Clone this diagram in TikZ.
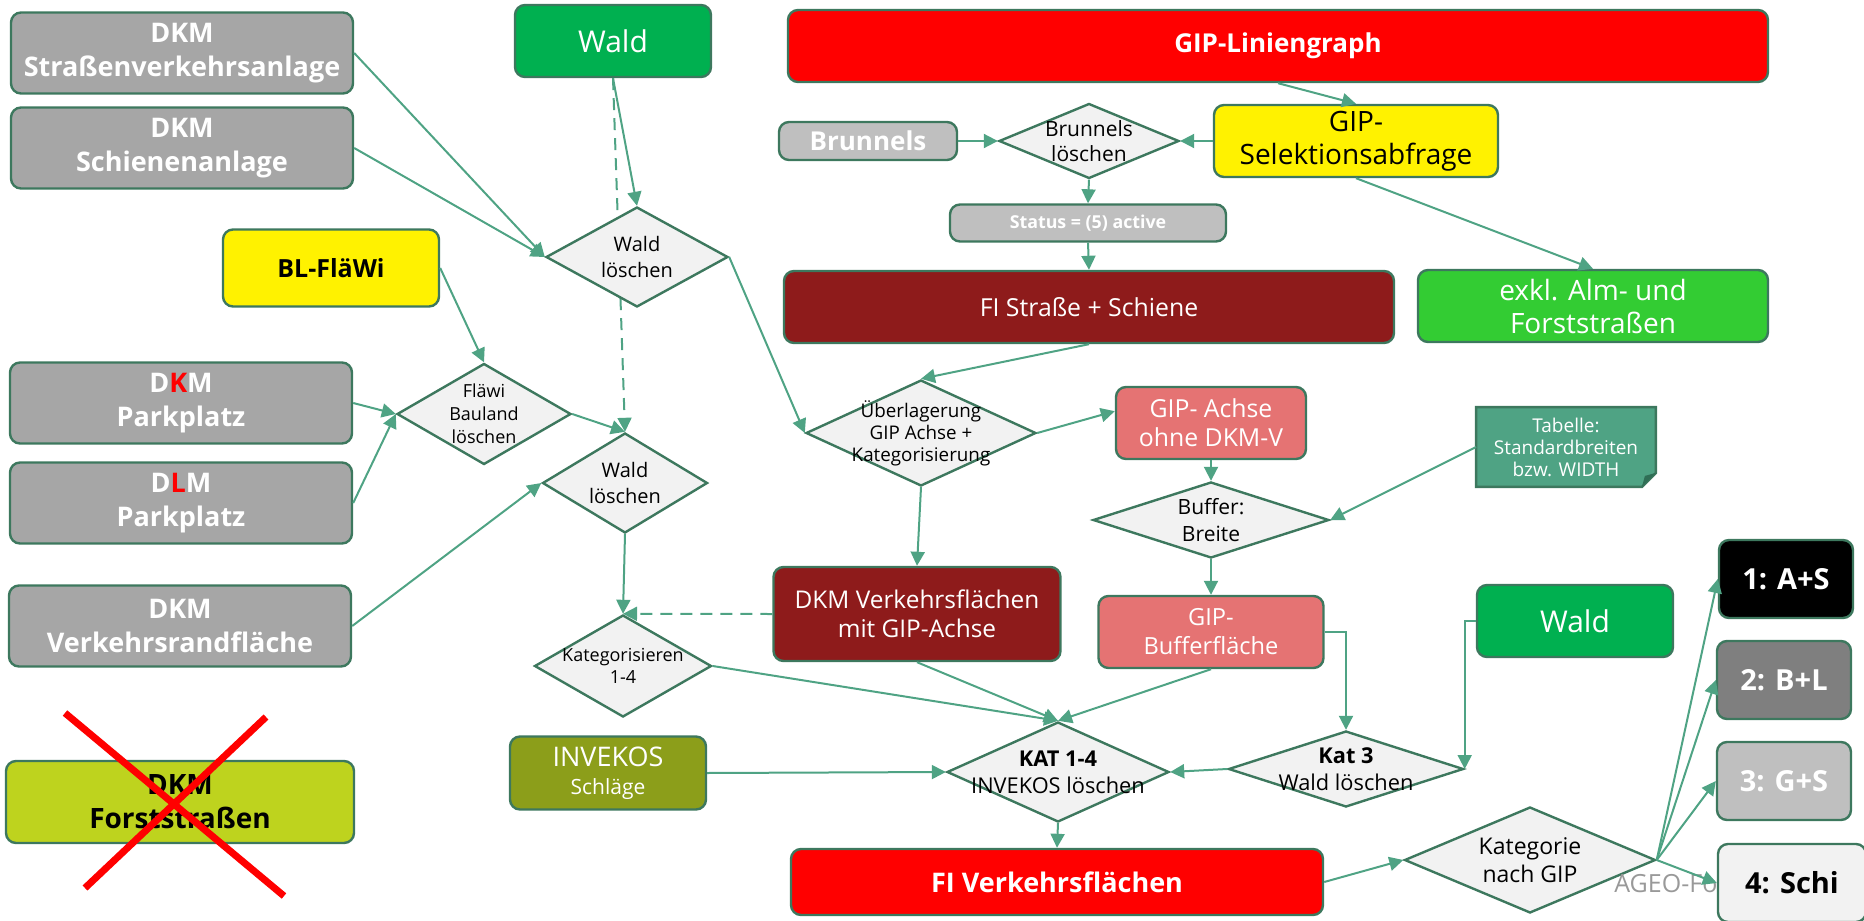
\documentclass[tikz,border=0pt]{standalone}
\usepackage{fontspec}
\setmainfont{Open Sans}
\usepackage{tikz}
\usetikzlibrary{arrows.meta}
\usetikzlibrary{shapes.geometric}
\usetikzlibrary{backgrounds}

\definecolor{flowline}{HTML}{4FA384}
\definecolor{flowrim}{HTML}{3D785E}
\definecolor{dkmgray}{HTML}{A6A6A6}
\definecolor{paleGray}{HTML}{BFBFBF}
\definecolor{midGray}{HTML}{7F7F7F}
\definecolor{diaGray}{HTML}{F2F2F2}
\definecolor{waldgreen}{HTML}{00B050}
\definecolor{exklgreen}{HTML}{33CC33}
\definecolor{fiDarkRed}{HTML}{8E1B1B}
\definecolor{achseRed}{HTML}{E57373}
\definecolor{invekosOlive}{HTML}{8C9E1A}
\definecolor{forstLime}{HTML}{BED31E}
\definecolor{tabTeal}{HTML}{4FA384}
\definecolor{tabFold}{HTML}{2F6E55}
\newcommand{\fsz}[2]{\fontsize{#1}{#2}\selectfont}

\begin{document}
\begin{tikzpicture}[x=0.5pt,y=-0.5pt,>={Triangle[length=7pt,width=7pt]},
    box/.style={rectangle,draw=flowrim,line width=1.2pt,rounded corners=5pt,align=center,inner sep=0pt},
    dkmbox/.style={box,fill=dkmgray,text=white,font=\fsz{13.5}{17}\bfseries,minimum width=171pt,minimum height=40.5pt},
    dia/.style={diamond,draw=flowrim,line width=1.2pt,fill=diaGray,inner sep=0pt},
    dtext/.style={align=center,inner sep=0pt,text=black},
    katbox/.style={box,font=\fsz{14.5}{17}\bfseries,minimum width=67pt,minimum height=39pt}]
    \useasboundingbox (0,0) rectangle (1864,921);

    \node[dkmbox] (dkmstr) at (182,53) {DKM\\Straßenverkehrsanlage};
    \node[dkmbox] (dkmschiene) at (182,148) {DKM\\Schienenanlage};
    \node[dkmbox] (dkmpark) at (181,403) {D{\color{red}K}M\\Parkplatz};
    \node[dkmbox] (dlmpark) at (181,503) {D{\color{red}L}M\\Parkplatz};
    \node[dkmbox] (dkmrand) at (180,626) {DKM\\Verkehrsrandfläche};
    \node[box,fill=forstLime,font=\fsz{14}{17}\bfseries,minimum width=174pt,minimum height=41pt] (forst) at (180,802) {DKM\\Forststraßen};
    \node[box,fill=yellow,font=\fsz{12.5}{16}\bfseries,minimum width=108pt,minimum height=38.5pt] (blflaewi) at (331,268) {BL-FläWi};
    \node[box,fill=waldgreen,text=white,font=\fsz{15}{18},minimum width=98pt,minimum height=36pt] (wald) at (613,41) {Wald};

    \node[dia,minimum width=91pt,minimum height=50pt,label={[dtext,font=\fsz{10}{13}]center:{Wald\\löschen}}] (waldloe) at (637,257) {};
    \node[dia,minimum width=87pt,minimum height=50.5pt,label={[dtext,font=\fsz{9}{11.5}]center:{Fläwi\\Bauland\\löschen}}] (flaewiloe) at (484,414) {};
    \node[dia,minimum width=82.5pt,minimum height=50pt,label={[dtext,font=\fsz{10}{13}]center:{Wald\\löschen}}] (waldloezwei) at (625,483) {};
    \node[dia,minimum width=88.5pt,minimum height=51pt,label={[dtext,font=\fsz{9}{11}]center:{Kategorisieren\\1-4}}] (kategor) at (623,666) {};
    \node[box,fill=invekosOlive,text=white,font=\fsz{13.5}{14},minimum width=98pt,minimum height=36.5pt] (invekos) at (608,773) {INVEKOS\\{\fsz{10.5}{13}Schläge}};

    \node[box,fill=red,text=white,font=\fsz{13}{16}\bfseries,minimum width=490pt,minimum height=36pt] (liniengraph) at (1278,46) {GIP-Liniengraph};
    \node[box,fill=paleGray,text=white,font=\fsz{13}{16}\bfseries,minimum width=89pt,minimum height=19pt] (brunnels) at (868,141) {Brunnels};
    \node[dia,minimum width=90pt,minimum height=37.5pt,label={[dtext,font=\fsz{10.5}{12.5}]center:{Brunnels\\löschen}}] (brunloe) at (1089,141) {};
    \node[box,fill=yellow,font=\fsz{14}{16.5},minimum width=142pt,minimum height=36pt] (selektion) at (1356,141) {GIP-\\Selektionsabfrage};
    \node[box,fill=paleGray,text=white,font=\fsz{8.9}{10}\bfseries,minimum width=138pt,minimum height=18.5pt] (status) at (1088,223) {Status = (5) active};
    \node[box,fill=fiDarkRed,text=white,font=\fsz{12.4}{14},minimum width=305pt,minimum height=36pt] (fistrasse) at (1089,307) {FI Straße + Schiene};
    \node[box,fill=exklgreen,text=white,font=\fsz{14}{16.5},minimum width=175pt,minimum height=36pt] (exkl) at (1593,306) {exkl. Alm- und\\Forststraßen};

    \node[dia,minimum width=115pt,minimum height=53pt,label={[dtext,font=\fsz{9.4}{11}]center:{Überlagerung\\GIP Achse +\\Kategorisierung}}] (ueber) at (921,433) {};
    \node[box,fill=achseRed,text=white,font=\fsz{12.4}{14.5},minimum width=95pt,minimum height=36pt] (achse) at (1211,423) {GIP- Achse\\ohne DKM-V};
    \node[text=white,font=\fsz{9.5}{11},align=center,inner sep=0pt,minimum width=89.5pt,minimum height=39.5pt] (tabelle) at (1566,447) {Tabelle:\\Standardbreiten\\bzw. WIDTH};
    \node[dia,minimum width=118pt,minimum height=38pt,label={[dtext,font=\fsz{10.5}{13.5}]center:{Buffer:\\Breite}}] (buffer) at (1211,520) {};
    \node[box,fill=fiDarkRed,text=white,font=\fsz{12.2}{14.5},minimum width=143.5pt,minimum height=47pt] (dkmvf) at (917,614) {DKM Verkehrsflächen\\mit GIP-Achse};
    \node[box,fill=achseRed,text=white,font=\fsz{11.8}{14.5},minimum width=112.5pt,minimum height=36pt] (bufferfl) at (1211,632) {GIP-\\Bufferfläche};
    \node[box,fill=waldgreen,text=white,font=\fsz{15}{18},minimum width=98pt,minimum height=36pt] (waldzwei) at (1575,621) {Wald};

    \node[dia,minimum width=111pt,minimum height=50pt,label={[dtext,font=\fsz{10.9}{13.5}]center:{\textbf{KAT 1-4}\\INVEKOS löschen}}] (katinv) at (1058,772) {};
    \node[dia,minimum width=117.5pt,minimum height=38pt,label={[dtext,font=\fsz{10.9}{13.5}]center:{\textbf{Kat 3}\\Wald löschen}}] (katwald) at (1346,769) {};
    \node[box,fill=red,text=white,font=\fsz{13.5}{16}\bfseries,minimum width=266pt,minimum height=33pt] (fiverk) at (1057,882) {FI Verkehrsflächen};
    \node[dia,minimum width=125.5pt,minimum height=53pt,label={[dtext,font=\fsz{11.5}{14}]center:{Kategorie\\nach GIP}}] (katgip) at (1530,860) {};

    \node[anchor=west,text=paleGray!80!black,font=\fsz{12.5}{14},inner sep=0pt] (ageo) at (1614,884) {AGEO-Forst};
    \node[katbox,fill=black,text=white] (as) at (1786,579) {1: A+S};
    \node[katbox,fill=midGray,text=white] (bl) at (1784,680) {2: B+L};
    \node[katbox,fill=paleGray,text=white] (gs) at (1784,781) {3: G+S};
    \node[katbox,fill=diaGray,minimum width=74pt] (schi) at (1792,883) {4: Schi};

    \begin{scope}[on background layer]
      \filldraw[fill=tabTeal,draw=flowrim,line width=1.2pt] (tabelle.north west) -- (tabelle.north east) -- ([yshift=7pt]tabelle.south east) -- ([xshift=-7pt]tabelle.south east) -- (tabelle.south west) -- cycle;
      \draw[->,flowline,line width=1pt,dash pattern=on 6pt off 4pt] (wald.south) -- (waldloezwei.north);
    \end{scope}
    \fill[tabFold] ([yshift=7pt]tabelle.south east) -- ([xshift=-7pt]tabelle.south east) -- ([xshift=-5.5pt,yshift=5.5pt]tabelle.south east) -- cycle;

    \begin{scope}[->,flowline,line width=1pt]
      \draw (dkmstr.east) -- (waldloe.west);
      \draw (dkmschiene.east) -- (waldloe.west);
      \draw (wald.south) -- (waldloe.north);
      \draw (waldloe.east) -- (ueber.west);
      \draw (blflaewi.east) -- (flaewiloe.north);
      \draw (dkmpark.east) -- (flaewiloe.west);
      \draw (dlmpark.east) -- (flaewiloe.west);
      \draw (flaewiloe.east) -- (waldloezwei.north);
      \draw (dkmrand.east) -- (waldloezwei.west);
      \draw (waldloezwei.south) -- (kategor.north);
      \draw[dash pattern=on 6pt off 4pt] (dkmvf.west) -- (kategor.north);
      \draw (kategor.east) -- (katinv.north);
      \draw (dkmvf.south) -- (katinv.north);
      \draw (bufferfl.south) -- (katinv.north);
      \draw (liniengraph.south) -- (selektion.north);
      \draw (selektion.west) -- (brunloe.east);
      \draw (brunnels.east) -- (brunloe.west);
      \draw (brunloe.south) -- (status.north);
      \draw (status.south) -- (fistrasse.north);
      \draw (selektion.south) -- (exkl.north);
      \draw (fistrasse.south) -- (ueber.north);
      \draw (ueber.east) -- (achse.173);
      \draw (ueber.south) -- (dkmvf.north);
      \draw (achse.south) -- (buffer.north);
      \draw (tabelle.west) -- (buffer.east);
      \draw (buffer.south) -- (bufferfl.north);
      \draw (bufferfl.east) -| (katwald.north);
      \draw (waldzwei.west) -| (katwald.east);
      \draw (katwald.west) -- (katinv.east);
      \draw (invekos.east) -- (katinv.west);
      \draw (katinv.south) -- (fiverk.north);
      \draw (fiverk.east) -- (katgip.west);
      \draw (katgip.east) -- (as.west);
      \draw (katgip.east) -- (bl.west);
      \draw (katgip.east) -- (gs.west);
      \draw (katgip.east) -- (schi.west);
    \end{scope}

    \draw[red,line width=3.5pt] (65,713) -- (284,896) (266,717) -- (85,888);
\end{tikzpicture}
\end{document}
